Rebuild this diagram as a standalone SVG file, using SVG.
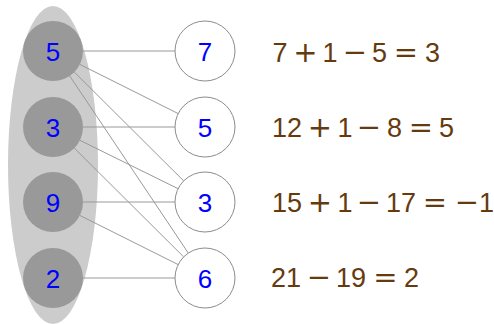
<svg xmlns="http://www.w3.org/2000/svg" width="494" height="324" viewBox="0 0 494 324">
<style>
.l{fill:#999999;stroke:none}
.r{fill:#ffffff;stroke:#8c8c8c;stroke-width:1}
.n{font-family:"Liberation Sans",Arial,sans-serif;font-size:26px;fill:#0000ff;text-anchor:middle}
.e{font-family:"Liberation Sans",Arial,sans-serif;font-size:27px;fill:#663a0f}
.o{font-family:"DejaVu Sans",sans-serif;font-size:29px}
#edges line{stroke:#999999;stroke-width:1}
</style>
<rect width="494" height="324" fill="#ffffff"/>
<ellipse id="group" cx="53" cy="165" rx="45" ry="159" fill="#cccccc"/>
<g id="edges">
<line x1="83" y1="51" x2="175" y2="51"/>
<line x1="79.8" y1="64.4" x2="178.2" y2="113.6"/>
<line x1="74.3" y1="72.1" x2="183.7" y2="180.9"/>
<line x1="69.7" y1="75.9" x2="188.3" y2="253.1"/>
<line x1="83" y1="127" x2="175" y2="127"/>
<line x1="79.9" y1="140.3" x2="178.1" y2="188.7"/>
<line x1="74.3" y1="148.1" x2="183.7" y2="256.9"/>
<line x1="83" y1="202" x2="175" y2="202"/>
<line x1="79.8" y1="215.4" x2="178.2" y2="264.6"/>
<line x1="83" y1="278" x2="175" y2="278"/>
</g>
<g id="L5"><circle class="l" cx="53" cy="51" r="30"/><text class="n" x="53" y="60.5">5</text></g>
<g id="L3"><circle class="l" cx="53" cy="127" r="30"/><text class="n" x="53" y="136.5">3</text></g>
<g id="L9"><circle class="l" cx="53" cy="202" r="30"/><text class="n" x="53" y="211.5">9</text></g>
<g id="L2"><circle class="l" cx="53" cy="278" r="30"/><text class="n" x="53" y="287.5">2</text></g>
<g id="R7"><circle class="r" cx="205" cy="51" r="30"/><text class="n" x="205" y="60.5">7</text></g>
<g id="R5"><circle class="r" cx="205" cy="127" r="30"/><text class="n" x="205" y="136.5">5</text></g>
<g id="R3"><circle class="r" cx="205" cy="202" r="30"/><text class="n" x="205" y="211.5">3</text></g>
<g id="R6"><circle class="r" cx="205" cy="278" r="30"/><text class="n" x="205" y="287.5">6</text></g>
<g id="eq1"><text class="e" y="62"><tspan x="272.5">7</tspan><tspan class="o" x="293.3">+</tspan><tspan x="322.5">1</tspan><tspan class="o" x="342.8">−</tspan><tspan x="372">5</tspan><tspan class="o" x="393.8">=</tspan><tspan x="425">3</tspan></text></g>
<g id="eq2"><text class="e" y="137"><tspan x="272">12</tspan><tspan class="o" x="307.8">+</tspan><tspan x="337.5">1</tspan><tspan class="o" x="356.8">−</tspan><tspan x="387">8</tspan><tspan class="o" x="408.8">=</tspan><tspan x="439">5</tspan></text></g>
<g id="eq3"><text class="e" y="212"><tspan x="272">15</tspan><tspan class="o" x="307.8">+</tspan><tspan x="337.5">1</tspan><tspan class="o" x="356.8">−</tspan><tspan x="386">17</tspan><tspan class="o" x="422.8">=</tspan><tspan class="o" x="454.8">−</tspan><tspan x="479">1</tspan></text></g>
<g id="eq4"><text class="e" y="287"><tspan x="271">21</tspan><tspan class="o" x="306.8">−</tspan><tspan x="336">19</tspan><tspan class="o" x="373.3">=</tspan><tspan x="404">2</tspan></text></g>
</svg>
